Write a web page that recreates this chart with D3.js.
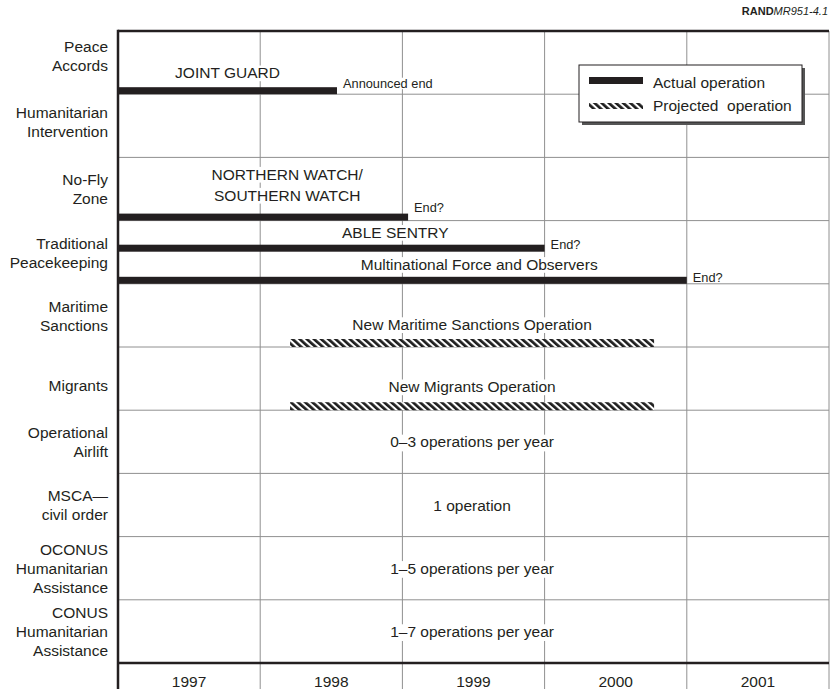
<!DOCTYPE html>
<html><head><meta charset="utf-8">
<script src="https://cdn.jsdelivr.net/npm/d3@7"></script>
<style>
body{margin:0;background:#fff}
svg{display:block;font-family:"Liberation Sans",Arial,Helvetica,sans-serif}
</style>
</head><body>
<svg id="chart" width="830" height="689"></svg>
<script>
// ---------- data ----------
const years = [1997, 1998, 1999, 2000, 2001];
const rowLabels = [
  ["Peace", "Accords"],
  ["Humanitarian", "Intervention"],
  ["No-Fly", "Zone"],
  ["Traditional", "Peacekeeping"],
  ["Maritime", "Sanctions"],
  ["Migrants"],
  ["Operational", "Airlift"],
  ["MSCA—", "civil order"],
  ["OCONUS", "Humanitarian", "Assistance"],
  ["CONUS", "Humanitarian", "Assistance"]
];
const rowKeys = rowLabels.map(l => l.join(" "));

const opLabels = [
  ["JOINT GUARD"],
  ["NORTHERN WATCH/", "SOUTHERN WATCH"],
  ["ABLE SENTRY"],
  ["Multinational Force and Observers"],
  ["New Maritime Sanctions Operation"],
  ["New Migrants Operation"]
];
const opRow = [0, 2, 3, 3, 4, 5];
const opStart = [1997, 1997, 1997, 1997, 1998.21, 1998.21];
const opEnd = [1998.54, 1999.04, 2000.0, 2001.0, 2000.77, 2000.77];
const opType = ["actual", "actual", "actual", "actual", "projected", "projected"];
const opLane = ["bottom", "bottom", "middle", "bottom", "bottom", "bottom"];
const opLabelCenter = [1997.77, 1998.19, 1998.95, 1999.54, 1999.49, 1999.49];
const opEndNote = ["Announced end", "End?", "End?", "End?", "", ""];

const freqText = ["0–3 operations per year", "1 operation", "1–5 operations per year", "1–7 operations per year"];
const freqRow = [6, 7, 8, 9];
const freqCenter = 1999.49;

const legendLabels = ["Actual operation", "Projected  operation"];
const legendTypes = ["actual", "projected"];

// ---------- layout ----------
const W = 830, H = 689;
const pL = 118, pR = 829, pT = 31, pB = 663;
const ink = "#231f20";
const grid = "#909090";
const fs = 15.5;
const rowLabelNudge = [-7, -4, 0, 1, 1, 7, 0, 0, 0, 0];
const opLabelNudge = [-2, -6, 0, 0, -2, -3];
const noteNudge = [-6, -9, -3, -2, 0, 0];

const svg = d3.select("#chart");
const x = d3.scaleLinear().domain([1997, 2002]).range([pL, pR]);
const y = d3.scaleBand().domain(rowKeys).range([pT, pB]).padding(0);

const defs = svg.append("defs");
const pat = defs.append("pattern").attr("id", "hatch")
  .attr("patternUnits", "userSpaceOnUse").attr("width", 4.8).attr("height", 4.8)
  .attr("patternTransform", "rotate(-48)");
pat.append("rect").attr("width", 4.8).attr("height", 4.8).attr("fill", "#fff");
pat.append("rect").attr("width", 2.7).attr("height", 4.8).attr("fill", "#1e1e1e");

// header
const hdr = svg.append("text").attr("x", 828).attr("y", 15).attr("text-anchor", "end")
  .attr("font-size", 11).attr("fill", ink);
hdr.append("tspan").attr("font-weight", "bold").text("RAND");
hdr.append("tspan").attr("font-style", "italic").text("MR951-4.1");

// vertical grid lines (year boundaries)
const yearEdges = years.slice(1).concat([2002]);
svg.append("g").selectAll("line").data(yearEdges).join("line")
  .attr("x1", d => x(d)).attr("x2", d => x(d))
  .attr("y1", pT).attr("y2", H)
  .attr("stroke", grid).attr("stroke-width", 1);

// horizontal row lines
svg.append("g").selectAll("line").data(rowKeys.slice(0, -1)).join("line")
  .attr("x1", pL).attr("x2", pR)
  .attr("y1", d => y(d) + y.bandwidth()).attr("y2", d => y(d) + y.bandwidth())
  .attr("stroke", grid).attr("stroke-width", 1);

// frame
svg.append("line").attr("x1", pL).attr("x2", pR).attr("y1", pT).attr("y2", pT)
  .attr("stroke", ink).attr("stroke-width", 2.5);
svg.append("line").attr("x1", pL).attr("x2", pR).attr("y1", pB).attr("y2", pB)
  .attr("stroke", ink).attr("stroke-width", 2.5);
svg.append("line").attr("x1", pL).attr("x2", pL).attr("y1", pT - 1.25).attr("y2", H)
  .attr("stroke", ink).attr("stroke-width", 2.5);

// year labels
svg.append("g").selectAll("text").data(years).join("text")
  .attr("x", d => x(d + 0.5)).attr("y", 687)
  .attr("text-anchor", "middle").attr("font-size", fs).attr("fill", ink)
  .text(d => d);

// row labels
const lh = 19;
const rl = svg.append("g");
rowLabels.forEach((lines, i) => {
  const cy = y(rowKeys[i]) + y.bandwidth() / 2 + rowLabelNudge[i];
  const t = rl.append("text").attr("text-anchor", "end").attr("font-size", fs).attr("fill", ink);
  lines.forEach((ln, j) => {
    t.append("tspan").attr("x", 108)
      .attr("y", cy + (j - (lines.length - 1) / 2) * lh + fs * 0.36)
      .text(ln);
  });
});

// bars
const barH = {actual: 7, projected: 8};
const ops = opLabels.map((l, i) => ({
  i, label: l, row: rowKeys[opRow[i]], start: opStart[i], end: opEnd[i],
  type: opType[i], lane: opLane[i], center: opLabelCenter[i], note: opEndNote[i]
}));
const barBottom = d => y(d.row) + (d.lane === "middle" ? y.bandwidth() / 2 - 0.5 : y.bandwidth());

svg.append("g").selectAll("rect").data(ops).join("rect")
  .attr("x", d => x(d.start)).attr("width", d => x(d.end) - x(d.start))
  .attr("y", d => barBottom(d) - barH[d.type]).attr("height", d => barH[d.type])
  .attr("fill", d => d.type === "actual" ? ink : "url(#hatch)");

// text with white knock-out box behind it (cap top to just below baseline)
const labelLayer = svg.append("g");
function boxed(t, pad, size, below) {
  const b = t.node().getBBox();
  const base = +t.attr("y");
  labelLayer.insert("rect", function() { return t.node(); })
    .attr("x", b.x - pad).attr("y", base - size * 0.82)
    .attr("width", b.width + 2 * pad).attr("height", size * 0.82 + below)
    .attr("fill", "#fff");
}

// bar labels
ops.forEach(d => {
  const base = barBottom(d) - barH[d.type] - 7 + opLabelNudge[d.i];
  d.label.forEach((ln, j) => {
    const t = labelLayer.append("text").attr("text-anchor", "middle").attr("font-size", fs).attr("fill", ink)
      .attr("x", x(d.center)).attr("y", base - (d.label.length - 1 - j) * 21).text(ln);
    boxed(t, 3, fs, 3);
  });
  if (d.note) {
    const t = labelLayer.append("text").attr("x", x(d.end) + 6).attr("y", barBottom(d) + noteNudge[d.i])
      .attr("font-size", 12.8).attr("fill", ink).text(d.note);
    boxed(t, 3, 12.8, 1);
  }
});

// frequency texts
freqText.forEach((txt, i) => {
  const t = labelLayer.append("text")
    .attr("x", x(freqCenter))
    .attr("y", y(rowKeys[freqRow[i]]) + y.bandwidth() / 2 + fs * 0.36)
    .attr("text-anchor", "middle").attr("font-size", fs).attr("fill", ink)
    .text(txt);
  boxed(t, 3, fs, 4);
});

// legend
const lg = svg.append("g").attr("transform", "translate(579,65)");
lg.append("rect").attr("x", 3).attr("y", 3).attr("width", 223).attr("height", 57).attr("fill", "#555");
lg.append("rect").attr("width", 223).attr("height", 57).attr("fill", "#fff")
  .attr("stroke", ink).attr("stroke-width", 1);
legendTypes.forEach((tp, i) => {
  lg.append("rect").attr("x", 10).attr("width", 54)
    .attr("y", i === 0 ? 12 : 38).attr("height", i === 0 ? 7 : 6)
    .attr("fill", tp === "actual" ? ink : "url(#hatch)");
  lg.append("text").attr("x", 74).attr("y", i === 0 ? 23 : 46)
    .attr("font-size", fs).attr("fill", ink)
    .style("white-space", "pre").text(legendLabels[i]);
});
</script>
</body></html>
